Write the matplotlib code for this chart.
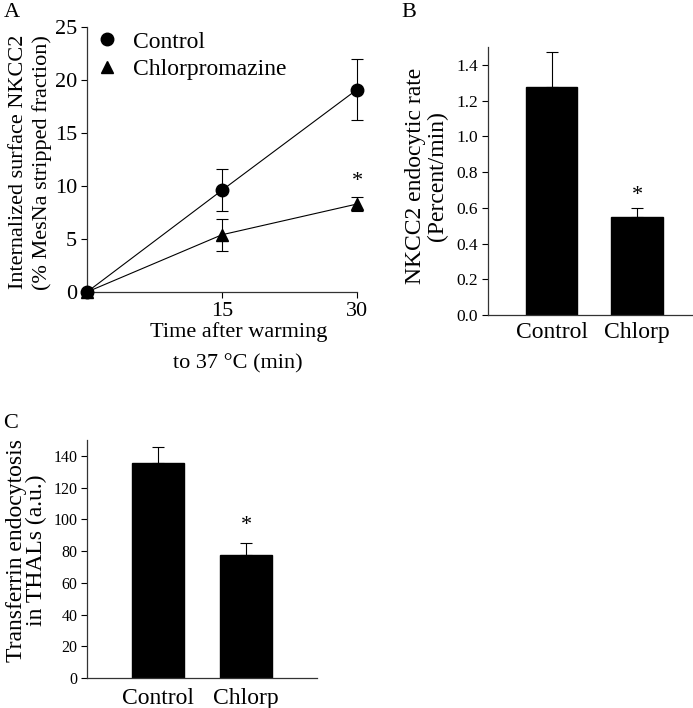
import matplotlib
matplotlib.use("Agg")
import matplotlib.pyplot as plt

plt.rcParams["font.family"] = ["Liberation Serif", "DejaVu Serif"]

# Panel A: internalized NKCC2 over time
time_min = [0, 15, 30]
control_mean = [0.0, 9.6, 19.1]
control_err = [0.0, 2.0, 2.9]
chlorp_mean = [0.0, 5.4, 8.3]
chlorp_err = [0.0, 1.5, 0.7]
a_star_y = 9.5

# Panel B: NKCC2 endocytic rate
b_groups = ["Control", "Chlorp"]
b_mean = [1.275, 0.55]
b_err = [0.195, 0.05]
b_star_y = 0.615

# Panel C: transferrin endocytosis
c_groups = ["Control", "Chlorp"]
c_mean = [135.5, 77.5]
c_err = [10.0, 7.5]
c_star_y = 90

W, H = 693, 708
fig = plt.figure(figsize=(W / 100, H / 100), dpi=100)


def px_axes(left, right, top, bottom):
    return fig.add_axes([left / W, 1 - bottom / H, (right - left) / W, (bottom - top) / H])


def style(ax, ticksize):
    for s in ("top", "right"):
        ax.spines[s].set_visible(False)
    for s in ("left", "bottom"):
        ax.spines[s].set_linewidth(0.9)
        ax.spines[s].set_color("#333333")
    ax.tick_params(direction="out", length=4, width=0.8, labelsize=ticksize,
                   colors="black", pad=3)


# ---- A
axA = px_axes(87, 357, 27, 292)
style(axA, 16)
for mean, err, mk, lab in [(control_mean, control_err, "o", "Control"),
                           (chlorp_mean, chlorp_err, "^", "Chlorpromazine")]:
    axA.plot(time_min, mean, color="black", lw=0.8, clip_on=False)
    axA.errorbar(time_min, mean, yerr=err, fmt="none", ecolor="black",
                 elinewidth=0.8, capsize=4.5, capthick=0.8, clip_on=False)
    axA.plot(time_min, mean, ls="none", marker=mk, ms=9, color="black",
             label=lab, clip_on=False, zorder=4)
axA.set_xlim(0, 30)
axA.set_ylim(0, 25)
axA.set_xticks([15, 30])
axA.set_yticks([0, 5, 10, 15, 20, 25])
axA.text(time_min[2], a_star_y, "*", ha="center", va="bottom", fontsize=16)
axA.set_ylabel("Internalized surface NKCC2\n(% MesNa stripped fraction)",
               fontsize=16, linespacing=1.25)
axA.yaxis.set_label_coords(-0.13, 0.49, transform=axA.transAxes)
axA.set_xlabel("Time after warming\nto 37 °C (min)", fontsize=16, linespacing=1.8)
axA.xaxis.set_label_coords(0.56, -0.115, transform=axA.transAxes)
axA.xaxis.label.set_va("top")
axA.legend(loc="upper left", frameon=False, fontsize=17, handlelength=1.0,
           handletextpad=0.6, borderaxespad=0, borderpad=0, labelspacing=0.27,
           bbox_to_anchor=((95 - 87) / 270, 1.0 - 4 / 265))

# ---- B
axB = px_axes(488, 693, 47, 315)
style(axB, 12.5)
xb = range(len(b_groups))
axB.bar(xb, b_mean, width=0.6, color="black", edgecolor="black")
axB.errorbar(xb, b_mean, yerr=[[0, 0], b_err], fmt="none", ecolor="black",
             elinewidth=0.8, capsize=4.5, capthick=0.8)
axB.set_xlim(-0.743, 1.655)
axB.set_ylim(0, 1.5)
axB.set_yticks([0.0, 0.2, 0.4, 0.6, 0.8, 1.0, 1.2, 1.4])
axB.set_yticklabels([f"{v:.1f}" for v in axB.get_yticks()])
axB.set_xticks(list(xb))
axB.set_xticklabels(b_groups, fontsize=17)
axB.tick_params(axis="x", length=0, pad=5)
axB.text(1, b_star_y, "*", ha="center", va="bottom", fontsize=16)
axB.set_ylabel("NKCC2 endocytic rate\n(Percent/min)", fontsize=17, linespacing=1.05)
axB.yaxis.set_label_coords(-0.195, 0.52, transform=axB.transAxes)

# ---- C
axC = px_axes(87, 317, 440, 678)
style(axC, 11.5)
xc = range(len(c_groups))
axC.bar(xc, c_mean, width=0.6, color="black", edgecolor="black")
axC.errorbar(xc, c_mean, yerr=[[0, 0], c_err], fmt="none", ecolor="black",
             elinewidth=0.8, capsize=4.5, capthick=0.8)
axC.set_xlim(-0.807, 1.807)
axC.set_ylim(0, 150)
axC.set_yticks(range(0, 141, 20))
axC.set_xticks(list(xc))
axC.set_xticklabels(c_groups, fontsize=17)
axC.tick_params(axis="x", length=0, pad=7)
axC.text(1, c_star_y, "*", ha="center", va="bottom", fontsize=16)
axC.set_ylabel("Transferrin endocytosis\nin THALs (a.u.)", fontsize=17, linespacing=0.9)
axC.yaxis.set_label_coords(-0.174, 0.535, transform=axC.transAxes)

# panel letters
fig.text(4 / W, 1 - 3 / H, "A", fontsize=16, va="top", ha="left")
fig.text(401 / W, 1 - 3 / H, "B", fontsize=16, va="top", ha="left")
fig.text(3 / W, 1 - 414 / H, "C", fontsize=16, va="top", ha="left")

fig.savefig("out.png", dpi=100)
